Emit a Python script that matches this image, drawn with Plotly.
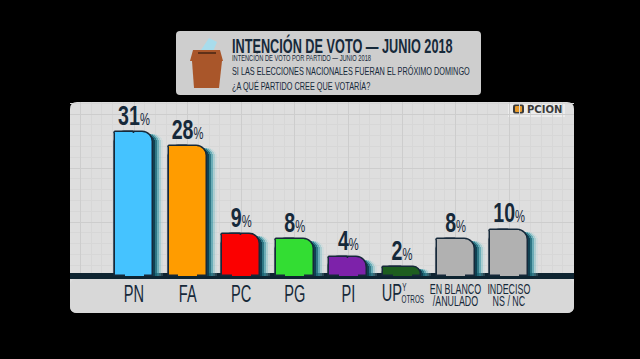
import plotly.graph_objects as go

W, H = 640, 359
categories = ["PN", "FA", "PC", "PG", "PI", "UP", "EN BLANCO", "INDECISO"]
values = [31, 28, 9, 8, 4, 2, 8, 10]
colors = ["#45c3ff", "#ff9c00", "#fb0000", "#33dd33", "#7d22aa", "#1d5e1f", "#b1b1b1", "#b1b1b1"]
tick_labels = ["PN", "FA", "PC", "PG", "PI", "", "", ""]
stacked_labels = {6: ("EN BLANCO", "/ANULADO"), 7: ("INDECISO", "NS / NC")}
title_main = "INTENCIÓN DE VOTO — JUNIO 2018"
title_sub = "INTENCIÓN DE VOTO POR PARTIDO — JUNIO 2018"
question = "SI LAS ELECCIONES NACIONALES FUERAN EL PRÓXIMO DOMINGO<br>¿A QUÉ PARTIDO CREE QUE VOTARÍA?"

FONT = "Liberation Sans, Arial, sans-serif"
INK = "#16293a"
STEP = 53.6      # px per category
PXY = 4.65       # px per percent
X0, X1, Y0, Y1 = 70, 574, 276, 102  # plot area in px


def fx(p): return p / W
def fy(p): return 1 - p / H


def rrect(x0, y0, x1, y1, r, **kw):
    a, b, c, d = fx(x0), fy(y0), fx(x1), fy(y1)
    rx, ry = r / W, r / H
    path = (f"M{a+rx},{b} L{c-rx},{b} Q{c},{b} {c},{b-ry} L{c},{d+ry} Q{c},{d} {c-rx},{d} "
            f"L{a+rx},{d} Q{a},{d} {a},{d+ry} L{a},{b-ry} Q{a},{b} {a+rx},{b} Z")
    return dict(type="path", path=path, xref="paper", yref="paper", layer="below",
                line=dict(width=0), **kw)


def poly(pts, **kw):
    path = "M" + " L".join(f"{fx(x)},{fy(y)}" for x, y in pts) + " Z"
    return dict(type="path", path=path, xref="paper", yref="paper", layer="below",
                line=dict(width=0), **kw)


idx = list(range(len(values)))
w = 38 / STEP
px = 1 / STEP
fig = go.Figure()

for off, col, op in [(10, "#9fd0d6", 0.2), (8, "#55aebb", 0.3), (6, "#2a8c9d", 0.5), (4, "#15606f", 0.7), (2, "#0c3a4c", 0.9)]:
    fig.add_trace(go.Bar(x=idx, y=[v - 0.5 for v in values], width=w, offset=-w / 2 + off * px,
                         marker=dict(color=col, opacity=op, line=dict(width=0), cornerradius=9),
                         hoverinfo="skip", showlegend=False))
fig.add_trace(go.Bar(x=idx, y=values, width=w, offset=-w / 2, name="Intención de voto",
                     marker=dict(color=colors, line=dict(color=INK, width=1.5), cornerradius=11),
                     showlegend=False))
fig.add_trace(go.Bar(x=idx, y=values, width=w / 2, offset=-w / 2,
                     marker=dict(color=colors, line=dict(color=INK, width=1.5), cornerradius=2),
                     hoverinfo="skip", showlegend=False))
fig.add_trace(go.Bar(x=idx, y=[v - 0.14 for v in values], width=w / 2, offset=-w / 4,
                     marker=dict(color=colors, line=dict(width=0)),
                     hoverinfo="skip", showlegend=False))
fig.add_trace(go.Scatter(x=idx, y=values, mode="text",
                         text=[f'<b>{v}</b><span style="font-size:16px">%</span>' for v in values],
                         textposition="top center",
                         textfont=dict(family=FONT, size=28, color=INK),
                         hoverinfo="skip", showlegend=False, cliponaxis=False))

shapes = [
    rrect(X0, 102, X1, 313, 7, fillcolor="#dedede"),
    rrect(X0, 279, X1, 313, 7, fillcolor="#d8d8d8"),
    rrect(176, 31, 481, 95, 4, fillcolor="#cecece"),
    poly([(201, 50), (209, 38), (217, 42), (212, 54)], fillcolor="#a8dcec"),
    poly([(193, 50), (220, 50), (223, 61), (190, 61)], fillcolor="#a9562a"),
    poly([(192, 61), (222, 61), (219, 88), (194, 88)], fillcolor="#a9562a"),
    poly([(198, 52), (216, 52), (216, 54), (198, 54)], fillcolor="#5e3018"),
    dict(type="rect", xref="paper", yref="paper", x0=fx(508), x1=fx(565), y0=fy(117), y1=fy(103),
         fillcolor="#ececec", line=dict(width=0), layer="below"),
    rrect(513, 104.5, 524, 113.5, 2, fillcolor="#3a3a3a"),
    rrect(515, 106, 522, 112, 1, fillcolor="#e79a2a"),
]

annotations = [
    dict(x=fx(230), y=fy(45), text=f"<b>{title_main}</b>", font=dict(size=20, color=INK, family=FONT)),
    dict(x=fx(230), y=fy(58), text=title_sub, font=dict(size=9, color=INK, family=FONT)),
    dict(x=fx(230), y=fy(78.5), text=question, font=dict(size=11.5, color=INK, family=FONT)),
    dict(x=fx(525), y=fy(109.5), text="<b>PCION</b>", font=dict(size=10, color="#3a3a3a", family="DejaVu Sans")),
]
for a in annotations:
    a.update(xref="paper", yref="paper", xanchor="left", yanchor="middle", showarrow=False, align="left")


def under_axis(i, text, size, dx, dy):
    return dict(x=i, y=0, xref="x", yref="y", xshift=dx, yshift=dy, text=text, showarrow=False,
                font=dict(size=size, color=INK, family=FONT), xanchor="center", yanchor="middle")


extra = [under_axis(5, categories[5], 23, -10, -17),
         under_axis(5, "Y", 10, 2, -11),
         under_axis(5, "OTROS", 10, 11, -23)]
for i, lines in stacked_labels.items():
    # small base size gives the tight leading of the reference; the spans set the letter size
    txt = "<br>".join(f'<span style="font-size:14px">{s}</span>' for s in lines)
    extra.append(under_axis(i, txt, 9.3, 0, -19))
fig.update_layout(annotations=annotations + extra)

fig.update_layout(
    width=W, height=H, autosize=False,
    margin=dict(l=0, r=0, t=0, b=0),
    paper_bgcolor="#000000", plot_bgcolor="rgba(0,0,0,0)",
    barmode="overlay", bargap=0, showlegend=False, shapes=shapes,
    xaxis=dict(domain=[fx(X0), fx(X1)], range=[(X0 - 134) / STEP, (X1 - 134) / STEP],
               tickmode="array", tickvals=idx + [-1], ticktext=tick_labels + [""], tickangle=0,
               tickfont=dict(family=FONT, size=23, color=INK), ticks="", ticklen=0, ticklabelstandoff=2,
               showgrid=True, gridcolor="#cdcdcd", gridwidth=1, zeroline=False, showline=False,
               minor=dict(tickmode="linear", tick0=0, dtick=0.2, showgrid=True, gridcolor="#d7d7d7", gridwidth=1, ticks=""),
               fixedrange=True),
    yaxis=dict(domain=[fy(Y0), fy(Y1)], range=[0, (Y0 - Y1) / PXY],
               tickmode="linear", tick0=0, dtick=11.6, showticklabels=False, ticks="",
               showgrid=True, gridcolor="#cdcdcd", gridwidth=1,
               zeroline=True, zerolinecolor="#0e2431", zerolinewidth=5.5, showline=False,
               minor=dict(tickmode="linear", tick0=0, dtick=2.32, showgrid=True, gridcolor="#d7d7d7", gridwidth=1, ticks=""),
               fixedrange=True),
)
# The reference lettering is a condensed face; none is installed, so narrow the real text.
post = """
document.body.style.margin='0';document.body.style.overflow='hidden';
document.querySelectorAll('svg text').forEach(function(t){
  var s=t.textContent; if(!s||s.indexOf('PCION')>=0) return;
  var b=t.getBBox();
  var left=/^(INTENCI|SI LAS)/.test(s);
  var k=/^\\d/.test(s)?0.7:0.635;
  var c=left?b.x:b.x+b.width/2;
  var prev=t.getAttribute('transform')||'';
  t.setAttribute('transform',prev+' translate('+c+',0) scale('+k+',1) translate('+(-c)+',0)');
});
"""
fig.write_html("out.html", config=dict(displayModeBar=False), post_script=post)
